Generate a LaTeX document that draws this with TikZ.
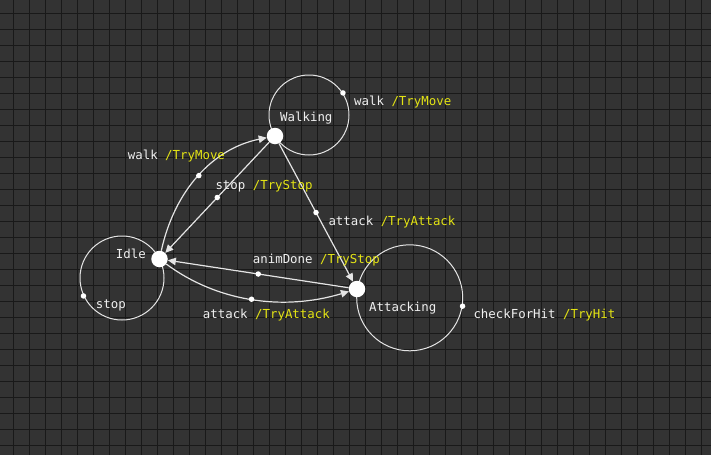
\documentclass[tikz,border=0pt]{standalone}
\usepackage{fontspec}
\newfontfamily\lblfont{DejaVu Sans Mono}
\usetikzlibrary{arrows.meta}
\definecolor{bg}{RGB}{51,51,51}
\definecolor{gridc}{RGB}{25,25,25}
\definecolor{txtw}{RGB}{240,240,240}
\definecolor{txty}{RGB}{228,228,20}
\definecolor{linec}{RGB}{228,228,228}
\tikzset{
  bigdot/.style={circle, fill=white, draw=none, minimum size=16.5pt, inner sep=0pt},
  smalldot/.style={circle, fill=white, draw=none, minimum size=5.5pt, inner sep=0pt},
  loopc/.style={circle, draw=linec, line width=1pt, inner sep=0pt, fill=none},
  edge/.style={draw=linec, line width=1.2pt, -{Triangle[length=8pt,width=7.5pt]}},
  lbl/.style={anchor=base west, inner sep=0pt, font=\lblfont\fontsize{12.4}{14}\selectfont, text=txtw},
}
\newcommand{\act}[1]{\textcolor{txty}{#1}}
\begin{document}
\begin{tikzpicture}[x=1pt,y=-1pt]
\fill[bg] (0,0) rectangle (711,455);
\useasboundingbox (0,0) rectangle (711,455);
\foreach \i in {0,...,44} \draw[gridc, line width=1.4pt] ({13.3+16*\i},0) -- ({13.3+16*\i},455);
\foreach \j in {0,...,27} \draw[gridc, line width=1.4pt] (0,{13.3+16*\j}) -- (711,{13.3+16*\j});

% self-loop circles
\node[loopc, minimum size=80pt] (wloop) at (309,115) {};
\node[loopc, minimum size=84pt] (iloop) at (122,278) {};
\node[loopc, minimum size=106pt] (aloop) at (409.7,297.8) {};

% states
\node[bigdot] (walking) at (275,136) {};
\node[bigdot] (idle) at (159.5,259) {};
\node[bigdot] (attacking) at (357,289) {};

% loop dots
\node[smalldot] (wld) at (wloop.33.5) {};
\node[smalldot] (ild) at (iloop.205) {};
\node[smalldot] (ald) at (aloop.-9.7) {};

% transitions
\draw[edge] (idle) .. controls (174.5,190.3) and (213,148.5) .. (walking) node[smalldot, pos=0.5] (d1) {};
\draw[edge] (walking) -- (idle) node[smalldot, midway] (d2) {};
\draw[edge] (walking) -- (attacking) node[smalldot, midway] (d3) {};
\draw[edge] (attacking) -- (idle) node[smalldot, midway] (d4) {};
\draw[edge] (idle) .. controls (216.6,301.4) and (282.5,311.4) .. (attacking) node[smalldot, pos=0.5] (d5) {};

% state names
\node[lbl] (tw) at (280,121) {Walking};
\node[lbl] (ti) at (115.7,258.3) {Idle};
\node[lbl] (ta) at (369,311.6) {Attacking};

% transition labels
\node[lbl] (l1) at (354,105) {walk \act{/TryMove}};
\node[lbl] (l2) at (127.7,159.3) {walk \act{/TryMove}};
\node[lbl] (l3) at (215.3,189.3) {stop \act{/TryStop}};
\node[lbl] (l4) at (328.3,225.3) {attack \act{/TryAttack}};
\node[lbl] (l5) at (252.7,263.3) {animDone \act{/TryStop}};
\node[lbl] (l6) at (202.7,318.6) {attack \act{/TryAttack}};
\node[lbl] (l7) at (473.3,318.6) {checkForHit \act{/TryHit}};
\node[lbl] (l8) at (95.7,308.3) {stop};
\end{tikzpicture}
\end{document}
